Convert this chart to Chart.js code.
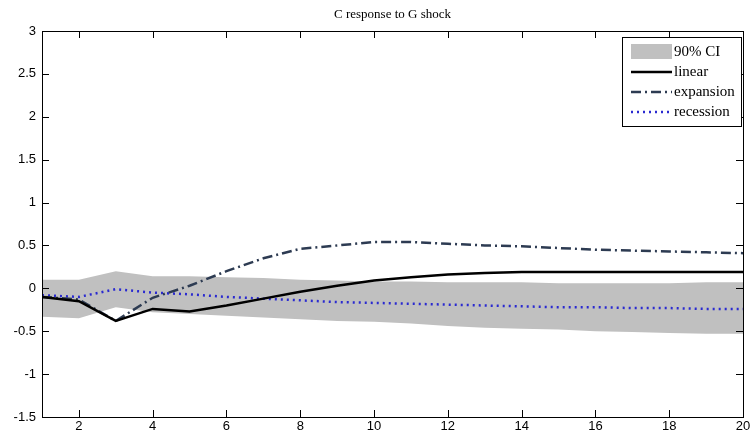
<!DOCTYPE html>
<html>
<head>
<meta charset="utf-8">
<script src="https://cdn.jsdelivr.net/npm/chart.js@4.4.1/dist/chart.umd.min.js"></script>
<style>
  body { margin: 0; background: #fff; }
  #wrap { width: 753px; height: 435px; }
</style>
</head>
<body>
<div id="wrap"><canvas id="irf" width="753" height="435"></canvas></div>
<script>
// horizon 1..20
const horizons = [1,2,3,4,5,6,7,8,9,10,11,12,13,14,15,16,17,18,19,20];
const linearVals    = [-0.10,-0.15,-0.38,-0.24,-0.27,-0.20,-0.12,-0.04,0.03,0.09,0.13,0.16,0.18,0.19,0.19,0.19,0.19,0.19,0.19,0.19];
const expansionVals = [-0.10,-0.13,-0.38,-0.11,0.03,0.20,0.35,0.46,0.50,0.54,0.54,0.52,0.50,0.49,0.47,0.45,0.44,0.43,0.42,0.41];
const recessionVals = [-0.08,-0.10,-0.01,-0.05,-0.07,-0.10,-0.12,-0.14,-0.16,-0.17,-0.18,-0.19,-0.20,-0.21,-0.22,-0.22,-0.23,-0.23,-0.24,-0.24];
const ciUpper = [0.10,0.10,0.20,0.14,0.14,0.13,0.12,0.10,0.09,0.08,0.08,0.07,0.07,0.07,0.06,0.06,0.06,0.06,0.07,0.07];
const ciLower = [-0.33,-0.35,-0.22,-0.28,-0.30,-0.32,-0.34,-0.36,-0.38,-0.39,-0.41,-0.44,-0.46,-0.47,-0.48,-0.50,-0.51,-0.52,-0.53,-0.53];
const xTicks = [2,4,6,8,10,12,14,16,18,20];
const yTicks = [-1.5,-1,-0.5,0,0.5,1,1.5,2,2.5,3];

const titleText = 'C response to G shock';
const legendLabels = ['90% CI', 'linear', 'expansion', 'recession'];

const toPts = vals => vals.map((v, i) => ({ x: horizons[i], y: v }));

// matlab-style box, inward ticks, title and legend
const matlabFrame = {
  id: 'matlabFrame',
  afterDraw(chart) {
    const ctx = chart.ctx;
    const a = chart.chartArea;
    const xs = chart.scales.x, ys = chart.scales.y;
    ctx.save();
    ctx.strokeStyle = '#000';
    ctx.lineWidth = 1;
    ctx.strokeRect(a.left + 0.5, a.top + 0.5, a.right - a.left, a.bottom - a.top);
    ctx.beginPath();
    xTicks.forEach(t => {
      const px = Math.round(xs.getPixelForValue(t)) + 0.5;
      ctx.moveTo(px, a.bottom); ctx.lineTo(px, a.bottom - 7);
      ctx.moveTo(px, a.top); ctx.lineTo(px, a.top + 7);
    });
    yTicks.forEach(t => {
      const py = Math.round(ys.getPixelForValue(t)) + 0.5;
      ctx.moveTo(a.left, py); ctx.lineTo(a.left + 7, py);
      ctx.moveTo(a.right, py); ctx.lineTo(a.right - 7, py);
    });
    ctx.stroke();

    // title
    ctx.fillStyle = '#000';
    ctx.font = '13px "Liberation Serif", serif';
    ctx.textAlign = 'center';
    ctx.textBaseline = 'middle';
    ctx.fillText(titleText, (a.left + a.right) / 2, 15);

    // legend
    const lx = 622, ly = 37, lw = 119, lh = 89;
    ctx.fillStyle = '#fff';
    ctx.fillRect(lx, ly, lw, lh);
    ctx.strokeRect(lx + 0.5, ly + 0.5, lw, lh);
    const sx0 = 631, sx1 = 672;
    const rows = [52, 72, 92, 112];
    ctx.fillStyle = '#c0c0c0';
    ctx.fillRect(sx0, rows[0] - 8, sx1 - sx0, 15);
    const lineStyles = [
      null,
      { color: '#000', dash: [], w: 2.5 },
      { color: '#2d3b52', dash: [10, 4, 2, 4], w: 2.5 },
      { color: '#2a2ad0', dash: [2, 4], w: 2.5 }
    ];
    for (let i = 1; i < 4; i++) {
      const s = lineStyles[i];
      ctx.beginPath();
      ctx.strokeStyle = s.color;
      ctx.lineWidth = s.w;
      ctx.setLineDash(s.dash);
      ctx.moveTo(sx0, rows[i]); ctx.lineTo(sx1, rows[i]);
      ctx.stroke();
    }
    ctx.setLineDash([]);
    ctx.fillStyle = '#000';
    ctx.font = '15px "Liberation Serif", serif';
    ctx.textAlign = 'left';
    legendLabels.forEach((lab, i) => ctx.fillText(lab, 674, rows[i]));
    ctx.restore();
  }
};

const tickFont = { family: '"Liberation Sans", Arial, sans-serif', size: 13 };

new Chart(document.getElementById('irf'), {
  type: 'line',
  data: {
    datasets: [
      {
        label: 'linear', data: toPts(linearVals),
        borderColor: '#000', borderWidth: 2.5, pointRadius: 0, tension: 0, fill: false
      },
      {
        label: 'expansion', data: toPts(expansionVals),
        borderColor: '#2d3b52', borderWidth: 2.5, borderDash: [10, 4, 2, 4],
        pointRadius: 0, tension: 0, fill: false
      },
      {
        label: 'recession', data: toPts(recessionVals),
        borderColor: '#2a2ad0', borderWidth: 2.5, borderDash: [2, 4],
        pointRadius: 0, tension: 0, fill: false
      },
      {
        label: 'ci upper', data: toPts(ciUpper),
        borderWidth: 0, pointRadius: 0, fill: '+1', backgroundColor: '#c0c0c0'
      },
      {
        label: 'ci lower', data: toPts(ciLower),
        borderWidth: 0, pointRadius: 0, fill: false
      }
    ]
  },
  options: {
    responsive: false,
    animation: false,
    layout: { padding: { top: 31, right: 10, left: 0, bottom: 0 } },
    plugins: {
      legend: { display: false },
      title: { display: false },
      tooltip: { enabled: false }
    },
    scales: {
      x: {
        type: 'linear', min: 1, max: 20,
        grid: { display: false, drawTicks: false },
        border: { display: false },
        afterBuildTicks: axis => { axis.ticks = xTicks.map(v => ({ value: v })); },
        afterFit: axis => { axis.height = 18; },
        ticks: {
          color: '#000', padding: 2, maxRotation: 0, font: tickFont,
          callback: v => String(v)
        }
      },
      y: {
        type: 'linear', min: -1.5, max: 3,
        grid: { display: false, drawTicks: false },
        border: { display: false },
        afterBuildTicks: axis => { axis.ticks = yTicks.map(v => ({ value: v })); },
        afterFit: axis => { axis.width = 42; },
        ticks: {
          color: '#000', padding: 6, font: tickFont,
          callback: v => String(v)
        }
      }
    }
  },
  plugins: [matlabFrame]
});
</script>
</body>
</html>
